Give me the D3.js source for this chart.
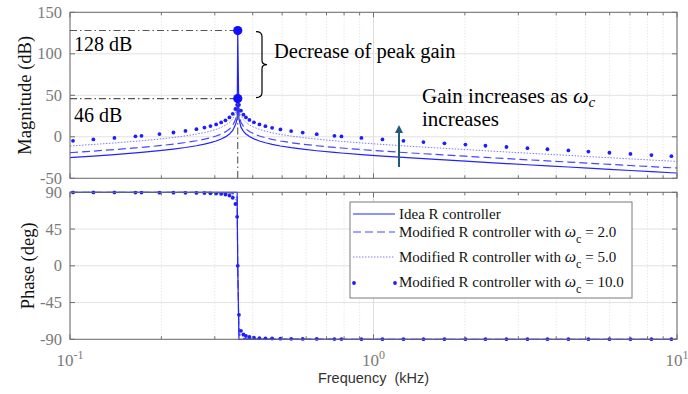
<!DOCTYPE html>
<html>
<head>
<meta charset="utf-8">
<script src="https://cdn.jsdelivr.net/npm/d3@7"></script>
<style>
  html, body { margin: 0; padding: 0; background: #fff; }
  svg { display: block; }
  text { font-family: "Liberation Serif", "Times New Roman", serif; }
</style>
</head>
<body>
<svg id="chart" width="688" height="394"></svg>
<script>
// Frequency grid (kHz) shared by all Bode curves
const freqKHz = [
  0.1, 0.1023, 0.1194, 0.1401, 0.1643, 0.1720, 0.1971, 0.2192, 0.2401, 0.2610,
  0.2773, 0.2903, 0.3030, 0.3148, 0.3252, 0.3352, 0.3437, 0.3508, 0.3554, 0.357,
  0.3603, 0.3658, 0.3728, 0.3799, 0.3901, 0.4037, 0.4209, 0.4405, 0.4634, 0.4936,
  0.5354, 0.5844, 0.6501, 0.7436, 0.7841, 0.9124, 1.0705, 1.2551, 1.4606, 1.7130,
  2.0086, 2.3377, 2.742, 3.2157, 3.7417, 4.3875, 5.1065, 5.989, 7.024, 8.236,
  9.585, 10
];

// Magnitude (dB)
const magIdeal = [
  -25.1, -24.9, -23.2, -21.4, -19.4, -18.8, -16.7, -14.8, -12.9, -10.8,
  -8.9, -7.1, -5.1, -2.7, -0.1, 3.3, 7.7, 14.4, 21.5, 128,
  21.5, 11.6, 6.6, 3.4, 0.3, -2.5, -5.1, -7.2, -9.2, -11.1,
  -13.1, -14.9, -16.8, -18.8, -19.5, -21.4, -23.2, -24.9, -26.4, -27.9,
  -29.4, -30.8, -32.3, -33.7, -35.0, -36.4, -37.8, -39.2, -40.6, -42.0,
  -43.3, -43.6
];
const magWc2 = [
  -19.1, -18.9, -17.2, -15.4, -13.4, -12.8, -10.7, -8.8, -6.9, -4.8,
  -2.9, -1.1, 0.9, 3.3, 5.9, 9.3, 13.7, 20.4, 27.4, 46,
  27.4, 17.6, 12.6, 9.4, 6.3, 3.5, 0.9, -1.2, -3.2, -5.1,
  -7.1, -8.9, -10.8, -12.8, -13.5, -15.4, -17.2, -18.9, -20.4, -21.9,
  -23.4, -24.8, -26.3, -27.7, -29.0, -30.4, -31.8, -33.2, -34.6, -36.0,
  -37.3, -37.6
];
const magWc5 = [
  -11.1, -10.9, -9.2, -7.4, -5.4, -4.8, -2.7, -0.8, 1.1, 3.2,
  5.1, 6.9, 8.9, 11.3, 13.9, 17.3, 21.7, 28.3, 35.2, 46,
  35.2, 25.6, 20.6, 17.4, 14.3, 11.5, 8.9, 6.8, 4.8, 2.9,
  0.9, -0.9, -2.8, -4.8, -5.5, -7.4, -9.2, -10.9, -12.4, -13.9,
  -15.4, -16.8, -18.3, -19.7, -21.0, -22.4, -23.8, -25.2, -26.6, -28.0,
  -29.3, -29.6
];
const magWc10 = [
  -5.1, -4.9, -3.2, -1.4, 0.6, 1.2, 3.3, 5.2, 7.1, 9.2,
  11.1, 12.9, 14.9, 17.3, 19.9, 23.3, 27.7, 33.5, 38.5, 46,
  38.5, 31.5, 26.6, 23.4, 20.3, 17.5, 14.9, 12.8, 10.8, 8.9,
  6.9, 5.1, 3.2, 1.2, 0.5, -1.4, -3.2, -4.9, -6.4, -7.9,
  -9.4, -10.8, -12.3, -13.7, -15.0, -16.4, -17.8, -19.2, -20.6, -22.0,
  -23.3, -23.6
];

// Phase (deg)
const phIdeal = [
  90, 90, 90, 90, 90, 90, 90, 90, 90, 90,
  90, 90, 90, 90, 90, 90, 90, 90, 90, 0,
  -90, -90, -90, -90, -90, -90, -90, -90, -90, -90,
  -90, -90, -90, -90, -90, -90, -90, -90, -90, -90,
  -90, -90, -90, -90, -90, -90, -90, -90, -90, -90,
  -90, -90
];
const phWc2 = [
  90.0, 90.0, 90.0, 90.0, 89.9, 89.9, 89.9, 89.9, 89.9, 89.8,
  89.8, 89.8, 89.7, 89.6, 89.5, 89.2, 88.7, 87.1, 83.4, 0,
  -83.4, -87.9, -88.8, -89.2, -89.4, -89.6, -89.7, -89.8, -89.8, -89.8,
  -89.9, -89.9, -89.9, -89.9, -89.9, -90.0, -90.0, -90.0, -90.0, -90.0,
  -90.0, -90.0, -90.0, -90.0, -90.0, -90.0, -90.0, -90.0, -90.0, -90.0,
  -90.0, -90.0
];
const phWc5 = [
  89.9, 89.9, 89.9, 89.9, 89.9, 89.8, 89.8, 89.7, 89.7, 89.6,
  89.5, 89.4, 89.2, 89.0, 88.6, 88.0, 86.6, 82.7, 73.9, 0,
  -73.9, -84.8, -87.1, -88.0, -88.6, -89.0, -89.2, -89.4, -89.5, -89.6,
  -89.7, -89.8, -89.8, -89.8, -89.9, -89.9, -89.9, -89.9, -89.9, -89.9,
  -90.0, -90.0, -90.0, -90.0, -90.0, -90.0, -90.0, -90.0, -90.0, -90.0,
  -90.0, -90.0
];
const phWc10 = [
  89.8, 89.8, 89.8, 89.8, 89.7, 89.7, 89.6, 89.5, 89.4, 89.2,
  89.0, 88.8, 88.5, 88.0, 87.3, 86.0, 83.3, 75.7, 60, 0,
  -60, -79.6, -84.1, -85.9, -87.1, -87.9, -88.5, -88.8, -89.0, -89.2,
  -89.4, -89.5, -89.6, -89.7, -89.7, -89.8, -89.8, -89.8, -89.9, -89.9,
  -89.9, -89.9, -89.9, -89.9, -89.9, -89.9, -89.9, -89.9, -89.9, -89.9,
  -89.9, -89.9
];

// Axis ticks and labels
const magTicks = [150, 100, 50, 0, -50];
const phaseTicks = [90, 45, 0, -45, -90];
const freqTicks = [0.1, 1, 10];
const freqExponents = ["-1", "0", "1"];

// Annotation values
const resonanceKHz = 0.357;
const peakIdealDb = 128;
const peakModifiedDb = 46;

const legendLabels = [
  { text: "Idea R controller", wc: null },
  { text: "Modified R controller with ", wc: "2.0" },
  { text: "Modified R controller with ", wc: "5.0" },
  { text: "Modified R controller with ", wc: "10.0" }
];

// ---------------------------------------------------------------------------
const svg = d3.select("#chart");
const L = 70, R = 677;
const topY0 = 12.3, topY1 = 178.3;
const botY0 = 192.3, botY1 = 339.3;

const x = d3.scaleLog().domain([0.1, 10]).range([L, R]);
const yMag = d3.scaleLinear().domain([-50, 150]).range([topY1, topY0]);
const yPh = d3.scaleLinear().domain([-90, 90]).range([botY1, botY0]);

const axisColor = "#6f6f6f";
const labelColor = "#7a7a7a";
const blue = "#2323ff";

svg.append("rect").attr("width", 688).attr("height", 394).attr("fill", "#fff");

const defs = svg.append("defs");
defs.append("clipPath").attr("id", "clipTop")
  .append("rect").attr("x", L).attr("y", topY0).attr("width", R - L).attr("height", topY1 - topY0);
defs.append("clipPath").attr("id", "clipBot")
  .append("rect").attr("x", L).attr("y", botY0 - 2).attr("width", R - L).attr("height", botY1 - botY0 + 4);

const allX = x.ticks();
const minorX = allX.filter(v => !freqTicks.some(t => Math.abs(t - v) < 1e-9));

function panel(y, y0, y1, yTicks) {
  const g = svg.append("g");
  g.selectAll(".gxm").data(minorX).join("line")
    .attr("x1", d => x(d)).attr("x2", d => x(d)).attr("y1", y0).attr("y2", y1)
    .attr("stroke", "#d4d4d4").attr("stroke-width", 0.8).attr("stroke-dasharray", "1,2");
  g.selectAll(".gxM").data(freqTicks).join("line")
    .attr("x1", d => x(d)).attr("x2", d => x(d)).attr("y1", y0).attr("y2", y1)
    .attr("stroke", "#dcdcdc").attr("stroke-width", 1);
  g.selectAll(".gy").data(yTicks).join("line")
    .attr("x1", L).attr("x2", R).attr("y1", d => y(d)).attr("y2", d => y(d))
    .attr("stroke", "#e2e2e2").attr("stroke-width", 1);
  return g;
}

function frame(y, y0, y1, yTicks) {
  const g = svg.append("g");
  g.append("rect").attr("x", L).attr("y", y0).attr("width", R - L).attr("height", y1 - y0)
    .attr("fill", "none").attr("stroke", axisColor).attr("stroke-width", 1);
  // inward ticks on all four sides
  yTicks.forEach(t => {
    g.append("line").attr("x1", L).attr("x2", L + 5).attr("y1", y(t)).attr("y2", y(t)).attr("stroke", axisColor);
    g.append("line").attr("x1", R).attr("x2", R - 5).attr("y1", y(t)).attr("y2", y(t)).attr("stroke", axisColor);
  });
  allX.forEach(v => {
    const len = freqTicks.some(t => Math.abs(t - v) < 1e-9) ? 5 : 3;
    g.append("line").attr("x1", x(v)).attr("x2", x(v)).attr("y1", y1).attr("y2", y1 - len).attr("stroke", axisColor);
    g.append("line").attr("x1", x(v)).attr("x2", x(v)).attr("y1", y0).attr("y2", y0 + len).attr("stroke", axisColor);
  });
  g.selectAll(".yl").data(yTicks).join("text")
    .attr("x", 62).attr("y", d => y(d) + 5.5)
    .attr("text-anchor", "end").attr("font-size", 16.5).attr("fill", labelColor)
    .text(d => d);
}

function drawPanelSeries(clipId, ys, series) {
  const cg = svg.append("g").attr("clip-path", `url(#${clipId})`);
  const line = arr => d3.line().x((d, i) => x(freqKHz[i])).y(d => ys(d))(arr);
  cg.append("path").attr("d", line(series.wc5)).attr("fill", "none")
    .attr("stroke", "#7c7cff").attr("stroke-width", 1).attr("stroke-dasharray", "1.5,1.5");
  cg.append("path").attr("d", line(series.wc2)).attr("fill", "none")
    .attr("stroke", "#4747ff").attr("stroke-width", 1.2).attr("stroke-dasharray", "8,4");
  cg.append("path").attr("d", line(series.ideal)).attr("fill", "none")
    .attr("stroke", blue).attr("stroke-width", 1.2);
  cg.selectAll("circle")
    .data(freqKHz.map((f, i) => ({ f, v: series.wc10[i] })).filter(d => d.f > 0.1 && d.f < 10))
    .join("circle").attr("cx", d => x(d.f)).attr("cy", d => ys(d.v)).attr("r", 1.9).attr("fill", "#1d1dff");
}

// --- Magnitude panel
panel(yMag, topY0, topY1, magTicks);
drawPanelSeries("clipTop", yMag, { ideal: magIdeal, wc2: magWc2, wc5: magWc5, wc10: magWc10 });

// --- Phase panel
panel(yPh, botY0, botY1, phaseTicks);
drawPanelSeries("clipBot", yPh, { ideal: phIdeal, wc2: phWc2, wc5: phWc5, wc10: phWc10 });

frame(yMag, topY0, topY1, magTicks);
frame(yPh, botY0, botY1, phaseTicks);

// x tick labels (powers of ten)
freqTicks.forEach((t, i) => {
  const tx = svg.append("text").attr("x", x(t)).attr("y", 366)
    .attr("text-anchor", "middle").attr("font-size", 17).attr("fill", labelColor);
  tx.append("tspan").text("10");
  tx.append("tspan").attr("dy", -7).attr("font-size", 12).text(freqExponents[i]);
});

// axis titles
svg.append("text").attr("transform", `translate(31,${(topY0 + topY1) / 2}) rotate(-90)`)
  .attr("text-anchor", "middle").attr("font-size", 18.5).attr("fill", "#111")
  .text("Magnitude (dB)");
svg.append("text").attr("transform", `translate(34,${(botY0 + botY1) / 2}) rotate(-90)`)
  .attr("text-anchor", "middle").attr("font-size", 18.5).attr("fill", "#111")
  .text("Phase (deg)");
svg.append("text").attr("x", x(1)).attr("y", 383)
  .attr("text-anchor", "middle").attr("font-size", 14.5).attr("fill", "#333")
  .style("font-family", "'Liberation Sans', Arial, sans-serif")
  .style("white-space", "pre")
  .text("Frequency  (kHz)");

// --- Annotations on the magnitude panel
const xr = x(resonanceKHz);
const dashDot = "7,3,1.5,3";
[peakIdealDb, peakModifiedDb].forEach(v => {
  svg.append("line").attr("x1", L).attr("x2", xr).attr("y1", yMag(v)).attr("y2", yMag(v))
    .attr("stroke", "#555").attr("stroke-width", 1.1).attr("stroke-dasharray", dashDot);
});
svg.append("line").attr("x1", xr).attr("x2", xr).attr("y1", yMag(peakModifiedDb)).attr("y2", topY1)
  .attr("stroke", "#555").attr("stroke-width", 1.1).attr("stroke-dasharray", dashDot);
[peakIdealDb, peakModifiedDb].forEach(v => {
  svg.append("circle").attr("cx", xr).attr("cy", yMag(v)).attr("r", 4.6).attr("fill", "#1010ff");
});

svg.append("text").attr("x", 74).attr("y", yMag(peakIdealDb) + 20).attr("font-size", 20)
  .attr("fill", "#000").text(`${peakIdealDb} dB`);
svg.append("text").attr("x", 74).attr("y", yMag(peakModifiedDb) + 23).attr("font-size", 20)
  .attr("fill", "#000").text(`${peakModifiedDb} dB`);

// curly brace spanning the peak reduction
{
  const yt = yMag(peakIdealDb) + 1, yb = yMag(peakModifiedDb) - 1, ym = (yt + yb) / 2;
  const bx = 262;
  const p = `M ${bx - 6},${yt} Q ${bx},${yt} ${bx},${yt + 5} L ${bx},${ym - 4} Q ${bx},${ym} ${bx + 5},${ym}`
    + ` Q ${bx},${ym} ${bx},${ym + 4} L ${bx},${yb - 5} Q ${bx},${yb} ${bx - 6},${yb}`;
  svg.append("path").attr("d", p).attr("fill", "none").attr("stroke", "#000").attr("stroke-width", 1.2);
}
svg.append("text").attr("x", 274).attr("y", 58).attr("font-size", 20.5).attr("fill", "#000")
  .text("Decrease of peak gain");

// gain trend text and arrow
{
  const t1 = svg.append("text").attr("x", 422).attr("y", 103).attr("font-size", 21).attr("fill", "#000");
  t1.append("tspan").text("Gain increases as ");
  t1.append("tspan").attr("font-style", "italic").attr("font-size", 22).text("ω");
  t1.append("tspan").attr("font-style", "italic").attr("font-size", 15).attr("dy", 4).text("c");
  svg.append("text").attr("x", 422).attr("y", 126).attr("font-size", 21).attr("fill", "#000")
    .text("increases");
  const ax = 399;
  svg.append("line").attr("x1", ax).attr("x2", ax).attr("y1", 167).attr("y2", 132)
    .attr("stroke", "#1d5d7a").attr("stroke-width", 2);
  svg.append("path").attr("d", `M ${ax},125 L ${ax - 4},133 L ${ax + 4},133 Z`).attr("fill", "#1d5d7a");
}

// --- Legend
{
  const lx = 350, ly = 202, lw = 282, lh = 96;
  const g = svg.append("g");
  g.append("rect").attr("x", lx).attr("y", ly).attr("width", lw).attr("height", lh)
    .attr("fill", "#fff").attr("stroke", "#7a7a7a").attr("stroke-width", 1);
  const rowsY = [214, 232, 257, 282];
  const sx0 = 353, sx1 = 395;
  g.append("line").attr("x1", sx0).attr("x2", sx1).attr("y1", rowsY[0]).attr("y2", rowsY[0])
    .attr("stroke", blue).attr("stroke-width", 1.2);
  g.append("line").attr("x1", sx0).attr("x2", sx1).attr("y1", rowsY[1]).attr("y2", rowsY[1])
    .attr("stroke", "#4747ff").attr("stroke-width", 1.2).attr("stroke-dasharray", "8,4");
  g.append("line").attr("x1", sx0).attr("x2", sx1).attr("y1", rowsY[2]).attr("y2", rowsY[2])
    .attr("stroke", "#7c7cff").attr("stroke-width", 1).attr("stroke-dasharray", "1.5,1.5");
  [sx0 + 1, sx1].forEach(cx => g.append("circle").attr("cx", cx).attr("cy", rowsY[3] + 1).attr("r", 1.9).attr("fill", "#1d1dff"));
  legendLabels.forEach((d, i) => {
    const t = g.append("text").attr("x", 399).attr("y", rowsY[i] + 5).attr("font-size", 15).attr("fill", "#111");
    t.append("tspan").text(d.text);
    if (d.wc) {
      t.append("tspan").attr("font-style", "italic").attr("font-size", 16).text("ω");
      t.append("tspan").attr("font-size", 12).attr("dy", 6).text("c");
      t.append("tspan").attr("dy", -6).text(" = " + d.wc);
    }
  });
}
</script>
</body>
</html>
